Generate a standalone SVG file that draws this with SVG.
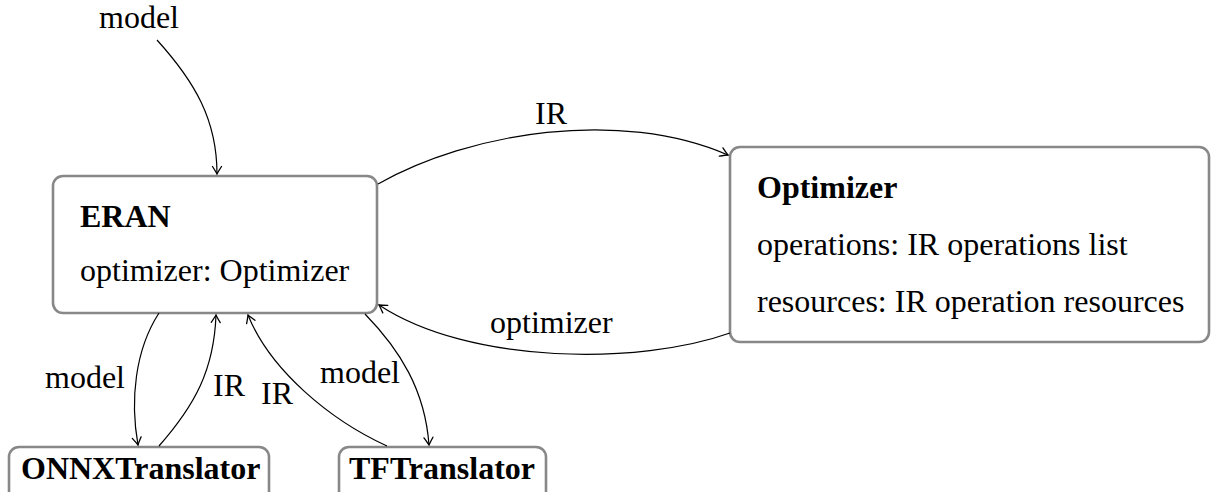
<svg xmlns="http://www.w3.org/2000/svg" width="1211" height="492" viewBox="0 0 1211 492">
  <defs>
    <style>
      .box { fill: #ffffff; stroke: #888888; stroke-width: 2.6; }
      text { font-family: "Times New Roman", "Liberation Serif", Times, "DejaVu Serif", serif; font-size: 32px; fill: #000000; }
      .b { font-weight: bold; }
      .edge { fill: none; stroke: #000000; stroke-width: 1.2; marker-end: url(#arr); }
    </style>
    <marker id="arr" markerUnits="userSpaceOnUse" viewBox="-9 -6 12 12" markerWidth="12" markerHeight="12" refX="0" refY="0" orient="auto">
      <path d="M -7.5,-4.5 Q -2,-1 0,0 Q -2,1 -7.5,4.5" fill="none" stroke="#000000" stroke-width="1.3" stroke-linecap="round"/>
    </marker>
  </defs>

  <rect width="1211" height="492" fill="#ffffff"/>

  <!-- ERAN -->
  <g id="eran">
    <rect class="box" x="53" y="176" width="324" height="137" rx="10"/>
    <text class="b" x="80" y="227">ERAN</text>
    <text x="80" y="281">optimizer: Optimizer</text>
  </g>

  <!-- Optimizer -->
  <g id="optimizer">
    <rect class="box" x="730" y="147" width="479" height="195" rx="10"/>
    <text class="b" x="757" y="198">Optimizer</text>
    <text x="757" y="255">operations: IR operations list</text>
    <text x="757" y="312">resources: IR operation resources</text>
  </g>

  <!-- ONNXTranslator -->
  <g id="onnx">
    <rect class="box" x="9" y="447" width="260" height="60" rx="10"/>
    <text class="b" x="21" y="479">ONNXTranslator</text>
  </g>

  <!-- TFTranslator -->
  <g id="tf">
    <rect class="box" x="339" y="447" width="207" height="60" rx="10"/>
    <text class="b" x="349" y="479">TFTranslator</text>
  </g>

  <!-- connectors -->
  <g id="edges">
    <path class="edge" d="M157,40 C195,82 217,120 217,174"/>
    <path class="edge" d="M378,184 C470,132 620,108 728,155"/>
    <path class="edge" d="M730,333 C640,365 470,365 379,305"/>
    <path class="edge" d="M159,313 C135,350 130,400 138,445"/>
    <path class="edge" d="M159,446 C195,405 214,370 216,315"/>
    <path class="edge" d="M387,446 C330,420 270,370 248,315"/>
    <path class="edge" d="M365,314 C400,350 425,390 429,445"/>
  </g>

  <!-- connector labels -->
  <g id="labels">
    <text x="99" y="28">model</text>
    <text x="535" y="124">IR</text>
    <text x="490" y="333">optimizer</text>
    <text x="45" y="388">model</text>
    <text x="213" y="396">IR</text>
    <text x="261" y="404">IR</text>
    <text x="320" y="383">model</text>
  </g>
</svg>
